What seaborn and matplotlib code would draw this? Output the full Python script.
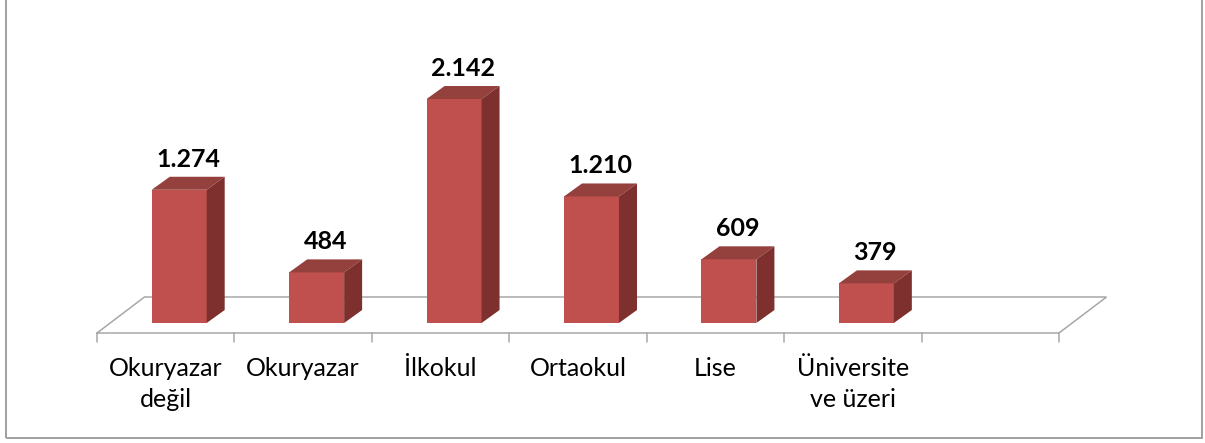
import matplotlib
matplotlib.use("Agg")
import matplotlib.pyplot as plt
from matplotlib.patches import Polygon, Rectangle
import pandas as pd
import seaborn as sns

# Data
categories = ["Okuryazar\ndeğil", "Okuryazar", "İlkokul", "Ortaokul", "Lise", "Üniversite\nve üzeri"]
values = [1274, 484, 2142, 1210, 609, 379]
empty_slot = " "  # Excel leaves one empty category at the right end

order = categories + [empty_slot]
df = pd.DataFrame({"cat": categories, "val": values})

# Layout (pixels)
FIG_W, FIG_H = 1205, 443
AX_L, AX_R = 110.5, 1072.5      # front face plane, x extent of 7 slots
BASE = 120                       # y=0 of bars, from bottom
PX_PER_UNIT = 224 / 2142
N_SLOTS = len(order)

FRONT = "#C0504D"
TOP = "#94403D"
SIDE = "#7D302E"
GRID = "#A6A6A6"

sns.set_style("white")
plt.rcParams["font.family"] = ["Lato", "DejaVu Sans"]


def px(dx, dy):
    """pixel offsets -> data offsets"""
    return dx * N_SLOTS / (AX_R - AX_L), dy / PX_PER_UNIT


fig = plt.figure(figsize=(FIG_W / 100, FIG_H / 100), dpi=100)
ax = fig.add_axes([AX_L / FIG_W, 0, (AX_R - AX_L) / FIG_W, 1])

sns.barplot(data=df, x="cat", y="val", order=order, color=FRONT,
            saturation=1, width=0.4, ax=ax, zorder=3, linewidth=0)

ax.set_xlim(-0.5, N_SLOTS - 0.5)
ax.set_ylim(-BASE / PX_PER_UNIT, (FIG_H - BASE) / PX_PER_UNIT)
ax.axis("off")

# floor
fx, fy = px(-13.5, -10)
bx, by = px(34, 26)
x_left, x_right = -0.5, N_SLOTS - 0.5
lw = 1.5 * 72 / 100
ax.plot([x_left + fx, x_right + fx, x_right + bx, x_left + bx, x_left + fx],
        [fy, fy, by, by, fy], color=GRID, lw=lw, zorder=1,
        solid_joinstyle="miter", clip_on=False)
tick_len = px(0, 9)[1]
for k in range(N_SLOTS + 1):
    xx = k - 0.5 + fx
    ax.plot([xx, xx], [fy, fy - tick_len], color=GRID, lw=lw, zorder=1, clip_on=False)

# 3d faces
ddx, ddy = px(18, 13)
for p in ax.patches:
    x0, w, h = p.get_x(), p.get_width(), p.get_height()
    if not h or h != h:
        continue
    top = [(x0, h), (x0 + w, h), (x0 + w + ddx, h + ddy), (x0 + ddx, h + ddy)]
    side = [(x0 + w, 0), (x0 + w + ddx, ddy), (x0 + w + ddx, h + ddy), (x0 + w, h)]
    ax.add_patch(Polygon(top, closed=True, fc=TOP, ec="none", zorder=3))
    ax.add_patch(Polygon(side, closed=True, fc=SIDE, ec="none", zorder=3))

# value labels
lab_dy = px(0, 19)[1]
for i, v in enumerate(values):
    ax.text(i + ddx / 2, v + lab_dy, f"{v:,}".replace(",", "."),
            ha="center", va="bottom", fontsize=18, fontweight="bold",
            color="black", zorder=5)

# category labels
cat_dy = px(0, 24)[1]
for i, c in enumerate(categories):
    ax.text(i + fx, fy - cat_dy, c, ha="center", va="top", fontsize=18,
            linespacing=1.4, multialignment="center", color="black")

# chart frame
fig.add_artist(Rectangle((5.5 / FIG_W, 5.5 / FIG_H), (1201.5 - 5.5) / FIG_W, 1.2,
                         transform=fig.transFigure, fill=False, ec="#A0A0A0",
                         lw=lw * 1.3))

fig.savefig("out.png", dpi=100)
